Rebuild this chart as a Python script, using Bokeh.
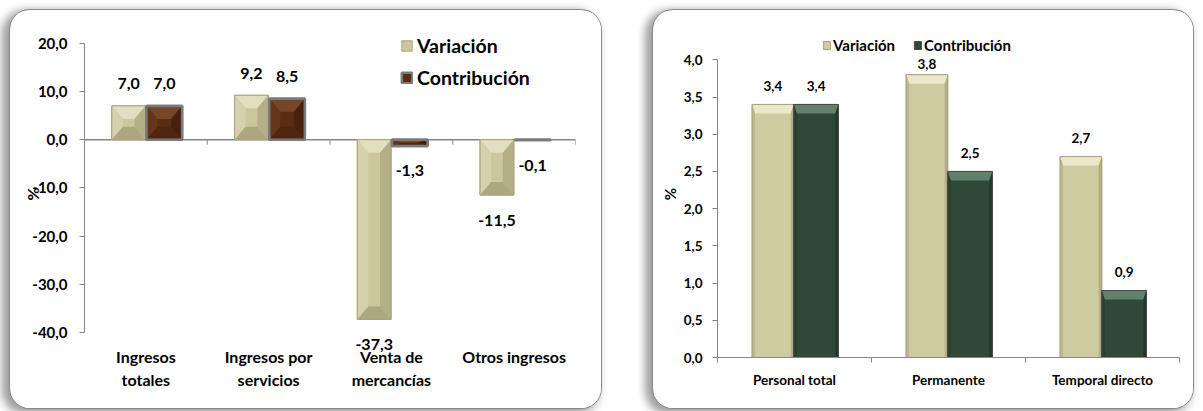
import numpy as np
from bokeh.plotting import figure
from bokeh.models import (FactorRange, Range1d, LinearAxis, CategoricalAxis, FixedTicker,
                          Span, Legend, LegendItem, LabelSet, ColumnDataSource,
                          CustomJSTickFormatter)
from bokeh.core.properties import value
from bokeh.layouts import row
from bokeh.embed import file_html
from bokeh.resources import INLINE

FONT = "Lato"

# ---------------- data ----------------
series_names = ["Variación", "Contribución"]

left_categories = ["Ingresos\ntotales", "Ingresos por\nservicios", "Venta de\nmercancías", "Otros ingresos"]
left_variacion = [7.0, 9.2, -37.3, -11.5]
left_contribucion = [7.0, 8.5, -1.3, -0.1]
left_yticks = [-40, -30, -20, -10, 0, 10, 20]

right_categories = ["Personal total", "Permanente", "Temporal directo"]
right_variacion = [3.4, 3.8, 2.7]
right_contribucion = [3.4, 2.5, 0.9]
right_yticks = [0.0, 0.5, 1.0, 1.5, 2.0, 2.5, 3.0, 3.5, 4.0]

# ---------------- styles ----------------
VAR_COLS = {"base": "#cbc69c", "top": "#e2dec0", "left": "#d5d1ad", "right": "#b4af86", "bottom": "#aca77e"}
BROWN_COLS = {"base": "#5a2c14", "top": "#774629", "left": "#66361b", "right": "#48210d", "bottom": "#4f2611"}
RVAR_COLS = {"base": "#cfcba1", "top": "#ebe7c8", "left": "#bdb88f", "right": "#b3ae86"}
GREEN_COLS = {"base": "#2f4837", "top": "#62806c", "left": "#28402f", "right": "#22372a"}
AXIS_COLOR = "#868686"
PANEL_STYLE = {"border-radius": "20px", "overflow": "hidden",
               "box-shadow": "0 0 0 1px #8a8a8a, -5px 3px 9px 3px rgba(0,0,0,0.38)"}

fmt_js = "return tick.toFixed(1).replace('.', ',');"

# shared vertical layout (both panels): figure height, top/bottom borders
FIG_H = 398
BORDER_TOP, BORDER_BOTTOM = 20, 51
FRAME_H = FIG_H - BORDER_TOP - BORDER_BOTTOM


def fmt(v):
    return f"{v:.1f}".replace(".", ",")


def bevel_bars(p, centers, vals, width, ppx, ppy, inset_x, inset_y, cols, outline, outline_w, full=True):
    centers = np.asarray(centers, float)
    vals = np.asarray(vals, float)
    x0 = centers - width / 2
    x1 = centers + width / 2
    y0 = np.minimum(vals, 0.0)
    y1 = np.maximum(vals, 0.0)
    main = p.quad(left=x0, right=x1, bottom=y0, top=y1, fill_color=cols["base"],
                  line_color=outline, line_width=outline_w)
    dx = np.minimum(inset_x / ppx, (x1 - x0) / 2)
    dy = np.minimum(inset_y / ppy, (y1 - y0) / 2)
    facets = {"top": [], "left": [], "right": [], "bottom": []}
    for a, b, c, d, ex, ey in zip(x0, x1, y0, y1, dx, dy):
        facets["top"].append(([a, b, b - ex, a + ex], [d, d, d - ey, d - ey]))
        if full:
            facets["bottom"].append(([a, b, b - ex, a + ex], [c, c, c + ey, c + ey]))
            facets["left"].append(([a, a + ex, a + ex, a], [c, c + ey, d - ey, d]))
            facets["right"].append(([b, b - ex, b - ex, b], [c, c + ey, d - ey, d]))
        else:
            facets["left"].append(([a, a + ex, a + ex, a], [c, c, d - ey, d]))
            facets["right"].append(([b, b - ex, b - ex, b], [c, c, d - ey, d]))
    for k, lst in facets.items():
        if lst:
            p.patches(xs=[list(map(float, l[0])) for l in lst], ys=[list(map(float, l[1])) for l in lst],
                      fill_color=cols[k], line_color=None)
    p.quad(left=x0, right=x1, bottom=y0, top=y1, fill_color=None,
           line_color=outline, line_width=outline_w)
    return main


def style_yaxis(ax, size, standoff, label_standoff, label_size):
    ax.formatter = CustomJSTickFormatter(code=fmt_js)
    ax.axis_line_color = AXIS_COLOR
    ax.major_tick_line_color = AXIS_COLOR
    ax.minor_tick_line_color = None
    ax.major_tick_out = 5
    ax.major_tick_in = 0
    ax.major_label_standoff = standoff
    ax.major_label_text_font = FONT
    ax.major_label_text_font_style = "bold"
    ax.major_label_text_font_size = size
    ax.major_label_text_color = "#000000"
    ax.axis_label = "%"
    ax.axis_label_text_font = FONT
    ax.axis_label_text_font_style = "bold"
    ax.axis_label_text_font_size = label_size
    ax.axis_label_text_color = "#000000"
    ax.axis_label_standoff = label_standoff


def make_fig(width, categories, yr, ml, mr):
    p = figure(width=width, height=FIG_H, title=None,
               x_range=FactorRange(factors=categories, range_padding=0),
               y_range=yr, x_axis_location=None,
               output_backend="svg", toolbar_location=None,
               min_border_left=ml, min_border_right=mr,
               min_border_top=BORDER_TOP, min_border_bottom=BORDER_BOTTOM)
    p.grid.visible = False
    p.outline_line_color = None
    p.background_fill_color = "white"
    p.border_fill_color = "white"
    p.styles = PANEL_STYLE
    return p


# ================= LEFT CHART =================
LW = 591
L_ML, L_MR = 74, 26
l_fw = LW - L_ML - L_MR
ln = len(left_categories)
l_ymin, l_ymax = min(left_yticks), max(left_yticks)
L_PAD_TOP, L_PAD_BOTTOM = 12.7, 25.0          # px between frame edge and end ticks
l_ppy = (FRAME_H - L_PAD_TOP - L_PAD_BOTTOM) / (l_ymax - l_ymin)
l_ppx = l_fw / ln

p1 = make_fig(LW, left_categories,
              Range1d(l_ymin - L_PAD_BOTTOM / l_ppy, l_ymax + L_PAD_TOP / l_ppy), L_ML, L_MR)
p1.margin = (10, 0, 0, 10)

style_yaxis(p1.yaxis[0], "15px", 12, -13, "16px")
p1.yaxis[0].ticker = FixedTicker(ticks=left_yticks)
p1.yaxis[0].bounds = (l_ymin, l_ymax)

cax1 = CategoricalAxis()
cax1.axis_line_color = None
cax1.major_tick_line_color = None
cax1.major_tick_out = 0
cax1.major_tick_in = 0
cax1.major_label_standoff = -11
cax1.major_label_text_font = FONT
cax1.major_label_text_font_style = "bold"
cax1.major_label_text_font_size = "16px"
cax1.major_label_text_color = "#000000"
cax1.major_label_text_line_height = 1.24
p1.add_layout(cax1, "below")

p1.add_layout(Span(location=0, dimension="width", line_color=AXIS_COLOR, line_width=1.5, level="underlay"))
bounds = np.arange(1, ln + 1).astype(float)
p1.segment(x0=bounds, y0=np.zeros(ln), x1=bounds, y1=np.full(ln, -5 / l_ppy),
           line_color=AXIS_COLOR, line_width=1)

l_idx = np.arange(ln) + 0.5
l_var_x = l_idx - 0.14
l_con_x = l_idx + 0.15
r_var1 = bevel_bars(p1, l_var_x, left_variacion, 0.275, l_ppx, l_ppy, 11, 13, VAR_COLS, "#a8a482", 1, True)
r_con1 = bevel_bars(p1, l_con_x, left_contribucion, 0.29, l_ppx, l_ppy, 11, 13, BROWN_COLS, "#7a7a7a", 2.5, True)

lab_x, lab_y, lab_t, lab_off = [], [], [], []
for xs, vs in ((l_var_x, left_variacion), (l_con_x, left_contribucion)):
    for x, v in zip(xs, vs):
        lab_x.append(float(x))
        lab_y.append(v)
        lab_t.append(fmt(v))
        lab_off.append(22 if v >= 0 else -25)
p1.add_layout(LabelSet(x="x", y="y", text="t", y_offset="o",
                       source=ColumnDataSource(dict(x=lab_x, y=lab_y, t=lab_t, o=lab_off)),
                       text_align="center", text_baseline="middle",
                       text_font=value(FONT), text_font_style="bold", text_font_size="16px",
                       text_color="#000000"))

leg1 = Legend(items=[LegendItem(label=series_names[0], renderers=[r_var1]),
                     LegendItem(label=series_names[1], renderers=[r_con1])],
              location=(316, 268), orientation="vertical",
              glyph_width=13, glyph_height=13, label_standoff=4, spacing=9,
              label_height=22, padding=0, margin=0,
              border_line_color=None, background_fill_alpha=0,
              label_text_font=FONT, label_text_font_style="bold", label_text_font_size="19.5px",
              label_text_color="#000000")
p1.add_layout(leg1, "center")

# ================= RIGHT CHART =================
RW = 540
R_ML, R_MR = 64, 14
r_fw = RW - R_ML - R_MR
rn = len(right_categories)
r_ymin, r_ymax = min(right_yticks), max(right_yticks)
R_PAD_TOP, R_PAD_BOTTOM = 29.3, 0.0
r_ppy = (FRAME_H - R_PAD_TOP - R_PAD_BOTTOM) / (r_ymax - r_ymin)
r_ppx = r_fw / rn

p2 = make_fig(RW, right_categories,
              Range1d(r_ymin - R_PAD_BOTTOM / r_ppy, r_ymax + R_PAD_TOP / r_ppy), R_ML, R_MR)
p2.margin = (10, 0, 0, 52)

style_yaxis(p2.yaxis[0], "13.5px", 10, 2, "15px")
p2.yaxis[0].ticker = FixedTicker(ticks=right_yticks)
p2.yaxis[0].bounds = (r_ymin, r_ymax)

tax2 = LinearAxis(ticker=FixedTicker(ticks=[float(i) for i in range(rn + 1)]),
                  formatter=CustomJSTickFormatter(code="return '';"))
tax2.axis_line_color = AXIS_COLOR
tax2.major_tick_line_color = AXIS_COLOR
tax2.minor_tick_line_color = None
tax2.major_tick_out = 5
tax2.major_tick_in = 0
tax2.major_label_standoff = 0
tax2.major_label_text_font_size = "1px"
p2.add_layout(tax2, "below")

cax2 = CategoricalAxis()
cax2.axis_line_color = None
cax2.major_tick_line_color = None
cax2.major_tick_out = 0
cax2.major_tick_in = 0
cax2.major_label_standoff = 9
cax2.major_label_text_font = FONT
cax2.major_label_text_font_style = "bold"
cax2.major_label_text_font_size = "13.5px"
cax2.major_label_text_color = "#000000"
p2.add_layout(cax2, "below")

r_idx = np.arange(rn) + 0.5
r_var_x = r_idx - 0.14
r_con_x = r_idx + 0.14
r_var2 = bevel_bars(p2, r_var_x, right_variacion, 0.27, r_ppx, r_ppy, 3, 9, RVAR_COLS, "#a9a583", 1, False)
r_con2 = bevel_bars(p2, r_con_x, right_contribucion, 0.29, r_ppx, r_ppy, 3, 9, GREEN_COLS, "#4a4a4a", 1, False)

lab_x, lab_y, lab_t, lab_off = [], [], [], []
for xs, vs in ((r_var_x, right_variacion), (r_con_x, right_contribucion)):
    for x, v in zip(xs, vs):
        lab_x.append(float(x))
        lab_y.append(v)
        lab_t.append(fmt(v))
        lab_off.append(min(18.5, (r_ymax - v) * r_ppy - 4))
p2.add_layout(LabelSet(x="x", y="y", text="t", y_offset="o",
                       source=ColumnDataSource(dict(x=lab_x, y=lab_y, t=lab_t, o=lab_off)),
                       text_align="center", text_baseline="middle",
                       text_font=value(FONT), text_font_style="bold", text_font_size="13.5px",
                       text_color="#000000"))

leg2 = Legend(items=[LegendItem(label=series_names[0], renderers=[r_var2]),
                     LegendItem(label=series_names[1], renderers=[r_con2])],
              location=(105, 303), orientation="horizontal",
              glyph_width=9, glyph_height=10, label_standoff=2, spacing=18,
              label_height=18, padding=0, margin=0,
              border_line_color=None, background_fill_alpha=0,
              label_text_font=FONT, label_text_font_style="bold", label_text_font_size="15px",
              label_text_color="#000000")
p2.add_layout(leg2, "center")

layout = row(p1, p2)
open("out.html", "w").write(file_html(layout, INLINE))
